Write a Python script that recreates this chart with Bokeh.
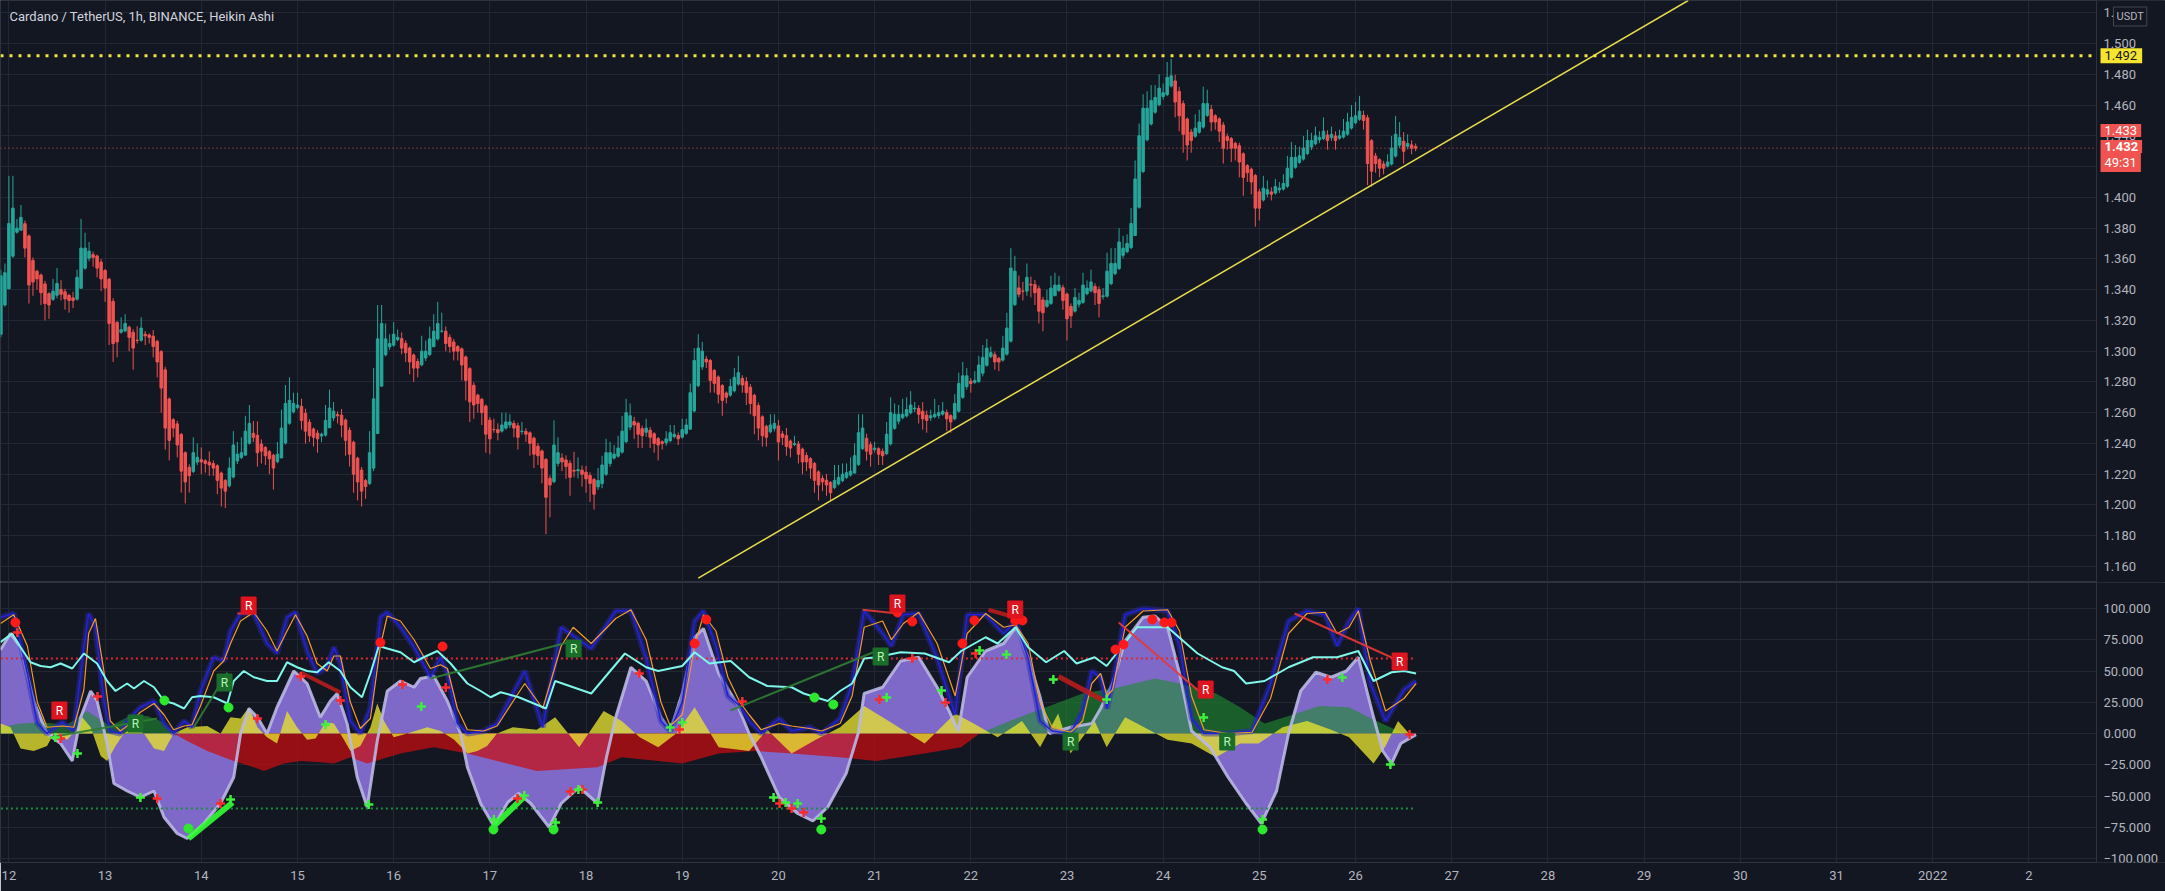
from bokeh.plotting import figure
from bokeh.models import (Range1d, FixedTicker, Label,
                          NumeralTickFormatter, CustomJSTickFormatter)
from bokeh.layouts import column
from bokeh.embed import file_html
from bokeh.resources import INLINE
from bokeh.core.properties import value

# ---------------------------------------------------------------- data
title_text = "Cardano / TetherUS, 1h, BINANCE, Heikin Ashi"
first_hour = -2          # hours counted from 12 Dec 00:00
first_open = 1.311
closes = (
    [1.349, 1.351, 1.383, 1.393, 1.380, 1.387, 1.367, 1.343, 1.345, 1.347, 1.338, 1.331,
     1.330, 1.339, 1.344, 1.337, 1.334, 1.333, 1.333, 1.348, 1.367, 1.367, 1.365, 1.361]
    + [1.354, 1.347, 1.341, 1.318, 1.305, 1.306, 1.314, 1.318, 1.309, 1.302, 1.307, 1.315,
       1.310, 1.309, 1.303, 1.293, 1.276, 1.250, 1.242, 1.250, 1.239, 1.222, 1.215, 1.219]
    + [1.234, 1.231, 1.228, 1.227, 1.226, 1.224, 1.216, 1.211, 1.209, 1.224, 1.239, 1.233,
       1.234, 1.248, 1.253, 1.244, 1.234, 1.235, 1.232, 1.230, 1.224, 1.233, 1.250, 1.266]
    + [1.268, 1.266, 1.265, 1.255, 1.248, 1.245, 1.244, 1.243, 1.246, 1.255, 1.263, 1.261,
       1.258, 1.252, 1.242, 1.233, 1.220, 1.215, 1.209, 1.212, 1.234, 1.269, 1.308, 1.318]
    + [1.308, 1.305, 1.311, 1.309, 1.302, 1.299, 1.293, 1.289, 1.289, 1.300, 1.300, 1.308,
       1.313, 1.318, 1.313, 1.305, 1.303, 1.300, 1.300, 1.291, 1.281, 1.267, 1.265, 1.266]
    + [1.260, 1.246, 1.243, 1.249, 1.247, 1.252, 1.254, 1.254, 1.250, 1.244, 1.248, 1.246,
       1.240, 1.233, 1.232, 1.224, 1.205, 1.213, 1.239, 1.234, 1.228, 1.225, 1.218, 1.222]
    + [1.223, 1.220, 1.217, 1.214, 1.207, 1.216, 1.226, 1.234, 1.234, 1.233, 1.237, 1.248,
       1.260, 1.258, 1.252, 1.246, 1.245, 1.250, 1.244, 1.240, 1.239, 1.240, 1.243, 1.247]
    + [1.246, 1.243, 1.249, 1.252, 1.273, 1.294, 1.302, 1.300, 1.293, 1.281, 1.279, 1.272,
       1.268, 1.270, 1.277, 1.283, 1.286, 1.278, 1.273, 1.266, 1.258, 1.250, 1.245, 1.244]
    + [1.252, 1.253, 1.241, 1.244, 1.238, 1.237, 1.240, 1.233, 1.228, 1.228, 1.224, 1.216,
       1.213, 1.215, 1.213, 1.208, 1.216, 1.218, 1.220, 1.221, 1.222, 1.232, 1.247, 1.250]
    + [1.235, 1.233, 1.237, 1.233, 1.232, 1.246, 1.260, 1.259, 1.259, 1.259, 1.262, 1.265,
       1.263, 1.259, 1.256, 1.255, 1.258, 1.259, 1.260, 1.261, 1.256, 1.254, 1.266, 1.279]
    + [1.284, 1.284, 1.279, 1.281, 1.291, 1.296, 1.302, 1.299, 1.293, 1.293, 1.302, 1.315,
       1.354, 1.352, 1.337, 1.339, 1.348, 1.343, 1.338, 1.326, 1.325, 1.333, 1.341, 1.343]
    + [1.343, 1.333, 1.321, 1.323, 1.335, 1.333, 1.343, 1.341, 1.345, 1.338, 1.331, 1.336,
       1.352, 1.357, 1.357, 1.371, 1.367, 1.370, 1.383, 1.412, 1.440, 1.458, 1.458, 1.463]
    + [1.465, 1.471, 1.468, 1.478, 1.479, 1.462, 1.453, 1.441, 1.434, 1.437, 1.445, 1.449,
       1.461, 1.461, 1.449, 1.449, 1.443, 1.432, 1.437, 1.432, 1.432, 1.423, 1.413, 1.416]
    + [1.410, 1.393, 1.393, 1.406, 1.405, 1.402, 1.407, 1.406, 1.409, 1.419, 1.426, 1.426,
       1.427, 1.432, 1.437, 1.437, 1.440, 1.439, 1.443, 1.437, 1.441, 1.437, 1.440, 1.443]
    + [1.449, 1.452, 1.453, 1.456, 1.450, 1.422, 1.417, 1.422, 1.419, 1.419, 1.423, 1.432,
       1.441, 1.439, 1.430, 1.435, 1.432, 1.432]
)
# wick lengths in thousandths of a USDT
wick_up = (
    [4, 6, 31, 21, 6, 8, 2, 1, 2, 1, 1, 2, 1, 8, 10, 6, 2, 1, 4, 5, 19, 10, 6, 2]
    + [1, 2, 1, 1, 2, 1, 8, 6, 1, 2, 9, 7, 2, 1, 4, 1, 1, 2, 1, 1, 2, 1, 1, 2]
    + [10, 9, 8, 1, 7, 2, 1, 1, 1, 7, 9, 8, 10, 10, 12, 8, 9, 3, 1, 1, 1, 8, 12, 12]
    + [15, 7, 8, 5, 3, 2, 1, 2, 1, 10, 12, 6, 2, 4, 1, 2, 1, 1, 2, 1, 14, 20, 22, 12]
    + [10, 6, 8, 5, 4, 2, 1, 1, 2, 10, 7, 8, 11, 14, 12, 3, 2, 2, 1, 1, 1, 1, 2, 1]
    + [1, 1, 2, 7, 4, 8, 6, 5, 2, 2, 6, 2, 1, 1, 2, 1, 1, 2, 16, 10, 3, 3, 2, 12]
    + [8, 3, 4, 2, 1, 8, 6, 9, 7, 6, 8, 10, 9, 8, 3, 1, 2, 6, 2, 1, 1, 1, 5, 5]
    + [6, 2, 7, 4, 6, 8, 9, 6, 2, 1, 1, 1, 1, 1, 5, 6, 11, 2, 3, 2, 1, 2, 1, 1]
    + [7, 6, 4, 2, 5, 1, 5, 2, 1, 2, 1, 1, 1, 2, 4, 1, 10, 8, 7, 6, 9, 8, 12, 9]
    + [3, 2, 4, 1, 2, 8, 10, 7, 6, 10, 8, 9, 4, 2, 6, 3, 4, 10, 5, 6, 2, 1, 6, 7]
    + [9, 5, 2, 6, 6, 8, 6, 4, 2, 1, 8, 10, 13, 10, 8, 6, 9, 5, 3, 2, 2, 7, 8, 8]
    + [6, 2, 1, 2, 6, 5, 8, 5, 8, 2, 2, 5, 12, 10, 10, 9, 8, 6, 10, 12, 8, 9, 11, 10]
    + [8, 9, 6, 10, 11, 4, 3, 2, 1, 2, 9, 8, 11, 9, 3, 1, 1, 2, 2, 1, 1, 2, 1, 1]
    + [1, 1, 2, 8, 6, 3, 5, 4, 6, 8, 10, 8, 6, 8, 7, 5, 6, 4, 9, 3, 5, 3, 4, 8]
    + [6, 8, 9, 10, 3, 2, 1, 2, 1, 2, 5, 8, 12, 10, 6, 6, 3, 2]
)
wick_dn = (
    [2, 1, 0, 1, 1, 0, 6, 12, 9, 7, 8, 11, 9, 1, 2, 4, 7, 8, 5, 1, 0, 1, 2, 6]
    + [6, 8, 9, 14, 12, 10, 1, 1, 9, 14, 2, 1, 6, 4, 7, 10, 16, 14, 13, 6, 8, 14, 14, 11]
    + [1, 2, 8, 6, 7, 5, 9, 12, 11, 1, 1, 2, 1, 0, 1, 3, 9, 8, 6, 10, 14, 1, 0, 1]
    + [1, 1, 1, 6, 8, 4, 6, 9, 4, 1, 0, 2, 5, 8, 10, 8, 12, 12, 10, 8, 1, 2, 0, 0]
    + [1, 2, 1, 1, 4, 6, 8, 9, 6, 1, 2, 1, 0, 1, 1, 5, 4, 6, 6, 10, 13, 13, 9, 6]
    + [8, 12, 10, 2, 5, 1, 1, 2, 6, 8, 2, 5, 8, 9, 6, 10, 24, 21, 1, 2, 6, 8, 12, 4]
    + [5, 8, 9, 12, 10, 2, 3, 1, 2, 1, 1, 1, 1, 2, 9, 9, 8, 3, 7, 6, 10, 4, 2, 1]
    + [1, 4, 1, 1, 0, 1, 1, 2, 4, 8, 6, 6, 10, 4, 1, 1, 1, 5, 8, 7, 12, 8, 7, 6]
    + [1, 2, 12, 5, 6, 6, 1, 6, 8, 6, 7, 8, 10, 6, 7, 5, 1, 1, 1, 1, 1, 0, 1, 1]
    + [6, 8, 2, 7, 6, 1, 1, 1, 2, 1, 1, 1, 2, 6, 7, 8, 2, 1, 2, 1, 8, 7, 1, 1]
    + [1, 2, 6, 1, 1, 2, 1, 1, 5, 6, 1, 1, 1, 1, 2, 6, 3, 8, 8, 8, 12, 1, 1, 0]
    + [1, 6, 14, 8, 1, 2, 1, 1, 1, 8, 9, 2, 1, 1, 1, 1, 2, 1, 1, 0, 1, 1, 1, 1]
    + [1, 1, 2, 1, 1, 10, 10, 12, 10, 8, 1, 1, 1, 1, 6, 5, 7, 10, 6, 9, 8, 10, 12, 6]
    + [8, 12, 8, 1, 2, 4, 1, 2, 1, 1, 1, 1, 1, 1, 1, 2, 1, 2, 1, 6, 2, 6, 1, 1]
    + [1, 1, 1, 1, 6, 14, 10, 6, 6, 4, 1, 1, 1, 2, 8, 2, 4, 2]
)

resistance = 1.492
last_price = 1.432
price_tags = ["1.433", "1.432", "49:31"]
trend_h = [172.0, 419.0]
trend_p = [1.1525, 1.528]

price_ticks = [1.160, 1.180, 1.200, 1.220, 1.240, 1.260, 1.280, 1.300, 1.320, 1.340,
               1.360, 1.380, 1.400, 1.420, 1.440, 1.460, 1.480, 1.500, 1.520]
osc_ticks = [-100, -75, -50, -25, 0, 25, 50, 75, 100]
day_ticks = [0, 24, 48, 72, 96, 120, 144, 168, 192, 216, 240, 264, 288, 312, 336,
             360, 384, 408, 432, 456, 480, 504]
day_labels = ["12", "13", "14", "15", "16", "17", "18", "19", "20", "21", "22", "23",
              "24", "25", "26", "27", "28", "29", "30", "31", "2022", "2"]

# oscillator pane (hours from 12 Dec 00:00, values)
wt_h = [-2.1, 0.4, 2.9, 6.2, 9.5, 12.9, 15.8, 17.9, 20.4, 22.0, 24.5, 26.2, 29.5, 32.8, 36.2,
        38.7, 42.0, 44.5, 48.6, 52.8, 56.1, 57.8, 59.9, 62.0, 64.4, 66.9, 71.1, 74.4, 77.7,
        80.2, 81.9, 84.4, 86.9, 89.4, 91.9, 94.4, 97.7, 101.1, 102.7, 106.0, 109.4, 112.7,
        114.4, 117.7, 121.0, 124.5, 127.2, 130.2, 134.8, 137.8, 142.3, 146.9, 149.1, 151.4,
        155.2, 159.0, 162.7, 165.0, 168.0, 171.1, 173.3, 177.1, 181.6, 184.7, 187.7, 192.2,
        196.8, 200.6, 204.3, 208.9, 211.9, 213.4, 218.0, 222.5, 227.0, 231.6, 234.6, 236.9,
        239.1, 243.7, 248.2, 251.2, 254.3, 257.3, 259.6, 264.9, 270.2, 272.4, 275.4, 278.5,
        283.0, 286.0, 289.1, 292.1, 295.1, 299.7, 304.2, 308.7, 312.5, 316.3, 319.3, 322.3,
        326.1, 329.9, 333.7, 336.7, 340.5, 342.8, 345.0, 347.3, 351.1]
wt_v = [67, 80, 69, 26, 0, -8, -22, 13, 34, 26, -8, -40, -46, -51, -46,
        -67, -80, -84, -72, -56, -35, 0, 20, 13, 0, 21, 50, 40, 13,
        26, 32, 8, -35, -59, -6, 34, 42, 37, 44, 46, 26, 0,
        -27, -56, -74, -55, -48, -56, -75, -56, -43, -56, -19, 13,
        53, 42, 13, 2, 32, 77, 84, 48, 24, 0, -19, -51,
        -64, -70, -59, -32, 0, 32, 37, 58, 61, 37, 18, 2,
        45, 66, 72, 85, 61, 29, 0, 5, 8, 20, 40, 74,
        93, 94, 85, 48, 2, -11, -35, -56, -72, -46, 0, 34,
        49, 45, 50, 61, 13, -14, -24, -8, -1]

fast_h = [-2.1, 1.2, 4.6, 7.1, 9.5, 13.3, 16.2, 18.7, 19.9, 21.6, 23.7, 25.3, 27.8, 29.5,
          32.8, 36.2, 38.7, 41.1, 43.7, 45.7, 47.8, 51.1, 53.6, 55.3, 57.8, 61.1, 64.4, 66.9,
          69.4, 71.5, 74.4, 76.9, 79.4, 81.1, 82.7, 85.2, 87.7, 90.2, 92.7, 94.4, 97.7, 101.1,
          105.2, 107.7, 109.4, 111.9, 114.4, 118.5, 121.8, 128.7, 133.2, 137.8, 140.8, 145.3,
          151.4, 155.2, 159.0, 162.7, 165.0, 168.0, 171.1, 173.3, 176.4, 179.4, 182.4, 184.7,
          187.7, 192.2, 195.3, 199.8, 202.8, 207.4, 210.4, 213.4, 218.0, 220.2, 223.2, 227.0,
          231.6, 236.1, 239.1, 243.7, 248.2, 251.2, 254.3, 257.3, 260.3, 264.9, 267.9, 270.2,
          272.4, 274.0, 275.4, 278.5, 283.0, 289.1, 292.1, 295.1, 298.2, 304.2, 310.2, 314.8,
          319.3, 323.9, 328.4, 331.4, 334.4, 336.7, 339.7, 343.5, 348.1, 351.1]
fast_v = [93, 96, 48, 8, 0, 9, 2, 69, 96, 85, 26, 2, 0, 10,
          21, 26, 8, 0, 10, 5, 34, 61, 58, 82, 96, 96, 72, 64,
          93, 97, 66, 48, 53, 69, 56, 10, 0, 21, 93, 97, 85, 69,
          45, 61, 48, 8, 0, 2, 8, 50, 5, 85, 78, 68,
          98, 98, 60, 10, 2, 25, 90, 98, 70, 30, 22, 10,
          0, 12, 2, 5, 0, 12, 40, 98, 80, 70, 95, 96,
          60, 15, 95, 95, 80, 90, 60, 10, 2, 0, 18, 50,
          45, 20, 40, 95, 100, 98, 70, 12, 0, 0, 2, 40,
          90, 98, 95, 70, 90, 100, 40, 10, 35, 42]
slow_v = [88, 95, 70, 25, 5, 6, 5, 35, 80, 92, 50, 10, 2, 6,
          17, 24, 15, 3, 6, 7, 22, 50, 58, 72, 90, 97, 82, 66,
          82, 95, 78, 56, 50, 62, 62, 25, 4, 12, 70, 94, 90, 75,
          52, 55, 52, 20, 3, 2, 6, 40, 20, 70, 85, 72,
          92, 99, 75, 25, 6, 15, 70, 95, 82, 45, 25, 15,
          3, 8, 6, 4, 2, 8, 30, 85, 90, 75, 88, 97,
          72, 30, 80, 96, 85, 87, 72, 25, 5, 1, 10, 40,
          48, 30, 35, 85, 98, 99, 82, 30, 3, 0, 1, 28,
          80, 96, 97, 80, 85, 98, 58, 18, 28, 40]

rsi_h = [-2.1, 0.8, 2.9, 5.4, 7.9, 10.4, 12.9, 15.8, 18.7, 22.0, 24.5, 26.6, 29.5, 31.2,
         33.7, 36.2, 38.7, 41.1, 43.7, 45.7, 47.8, 51.1, 54.5, 56.1, 58.6, 61.1, 64.4, 66.9,
         69.4, 71.9, 74.4, 76.9, 79.8, 82.7, 85.2, 88.1, 90.2, 92.3, 94.4, 97.7, 101.1, 103.5,
         106.9, 110.2, 114.4, 117.7, 120.2, 122.7, 127.2, 134.0, 136.3, 140.8, 145.3, 153.7,
         159.0, 162.0, 168.0, 171.1, 174.8, 180.1, 184.7, 189.2, 195.3, 198.3, 204.3, 207.4,
         210.4, 213.4, 216.4, 222.5, 228.5, 234.6, 237.6, 243.7, 246.7, 251.2, 254.3, 258.8,
         263.3, 266.4, 270.9, 273.9, 281.5, 289.1, 296.6, 302.7, 305.7, 308.7, 313.3, 319.3,
         325.4, 331.4, 336.7, 340.5, 345.0, 348.1, 351.1]
rsi_v = [73, 80, 69, 57, 54, 53, 56, 52, 64, 56, 42, 34, 40, 36,
         42, 37, 26, 24, 20, 29, 30, 29, 24, 42, 50, 45, 42, 42,
         57, 53, 50, 49, 57, 50, 37, 29, 48, 70, 68, 65, 57, 61,
         66, 56, 40, 34, 29, 33, 29, 20, 42, 37, 32, 64,
         53, 50, 54, 65, 56, 58, 45, 38, 37, 32, 26, 34,
         40, 60, 61, 65, 64, 57, 66, 77, 72, 85, 69, 57,
         66, 56, 61, 54, 85, 85, 64, 53, 50, 40, 42, 53,
         61, 61, 66, 42, 49, 50, 48]

mom_h = [-2.1, 0.4, 2.9, 6.2, 9.5, 11.2, 14.5, 16.6, 18.3, 20.4, 22.9, 24.5, 26.6, 28.7, 31.2,
         33.7, 36.2, 38.7, 41.1, 44.5, 49.5, 52.8, 55.3, 57.8, 59.9, 62.0, 64.4, 66.9, 69.4,
         71.9, 74.4, 76.5, 79.0, 81.1, 83.6, 85.2, 87.7, 90.2, 91.9, 93.6, 96.0, 99.4, 104.4,
         107.7, 111.1, 114.4, 116.9, 119.3, 121.8, 125.7, 131.7, 136.3, 142.3, 148.4, 152.9,
         157.4, 162.0, 166.5, 171.1, 177.1, 184.7, 189.2, 195.3, 201.3, 207.4, 213.4, 219.5,
         228.5, 236.1, 240.7, 246.7, 252.8, 257.3, 261.8, 264.9, 270.9, 273.9, 278.5, 281.5,
         289.1, 295.1, 301.2, 307.2, 311.8, 317.8, 323.9, 329.9, 334.4, 340.5, 343.5, 346.6, 349.6]
mom_v = [8, 5, -12, -14, -10, 0, -5, 2, 13, 5, -18, -22, -10, 0, 5,
         0, -12, -14, 0, 5, 6, 0, 13, 12, 21, 5, -3, -8, 18,
         5, -5, -4, 9, 8, -5, -14, -10, 5, 24, 10, -3, 0, 5,
         2, -5, -16, -14, -10, 0, 5, 3, 13, -11, 18, 10,
         -3, -11, 0, 21, -11, -14, 3, -16, -5, 5, 22, 10,
         -8, 16, 8, -3, 10, -11, 16, -16, 10, -11, 13, 8,
         -5, -8, -19, -8, -8, 5, 10, 3, -3, -24, -10, 10, -1]

mf_h = [-2.1, 2.9, 7.9, 14.5, 19.5, 25.3, 29.5, 34.5, 37.8, 41.1, 44.5, 49.5, 56.1, 61.1,
        63.6, 68.6, 72.8, 77.7, 81.1, 85.2, 89.4, 97.7, 106.0, 114.4, 121.8, 131.7, 146.9,
        152.9, 168.0, 177.1, 186.2, 195.3, 207.4, 216.4, 228.5, 237.6, 242.2, 249.7, 258.8,
        267.9, 276.9, 286.0, 292.1, 301.2, 307.2, 313.3, 319.3, 326.9, 334.4, 340.5, 348.1]
mf_v = [5, 8, 9, 7, 18, 6, 13, 14, 10, 0, -6, -14, -22, -27,
        -30, -24, -22, -23, -24, -19, -24, -16, -11, -16, -22, -30, -27,
        -19, -24, -16, -14, -16, -19, -22, -16, -11, 0, 10, 21,
        32, 37, 44, 40, 32, 21, 8, 14, 22, 21, 11, 0]

ob_level = 60
os_level = -60

red_dot_h = [1.6, 92.7, 108.2, 171.1, 174.0, 221.7, 225.4, 237.9, 240.9, 251.1, 252.9,
             276.1, 278.1, 285.3, 288.3, 290.1]
red_dot_v = [88.8, 72.8, 69.6, 72.0, 91.2, 96.8, 89.6, 72.0, 90.4, 90.4, 90.4,
             67.2, 71.2, 91.2, 88.8, 88.8]
green_dot_h = [38.8, 54.8, 44.8, 120.9, 135.9, 201.0, 205.7, 202.7, 312.8]
green_dot_v = [26.4, 20.8, -76.0, -76.8, -76.8, 28.8, 23.2, -76.8, -76.8]
red_cross_h = [2.1, 12.9, 22.1, 37.0, 52.8, 62.0, 72.8, 82.7, 98.2, 109.0, 126.9, 140.1,
               143.1, 157.3, 167.3, 183.0, 192.3, 195.3, 198.3, 217.2, 225.4, 233.7, 241.2,
               329.0, 349.5]
red_cross_v = [80.8, -4.0, 29.6, -52.0, -56.0, 12.0, 45.6, 26.4, 39.2, 36.8, -52.0, -46.4,
               -44.8, 48.0, 3.2, 25.6, -56.0, -60.0, -63.2, 27.2, 60.0, 24.8, 64.0,
               43.2, -0.8]
green_cross_h = [11.6, 17.1, 32.8, 55.3, 79.0, 89.8, 102.9, 121.0, 128.6, 136.4, 142.1,
                 146.9, 165.0, 168.0, 190.8, 193.8, 196.8, 202.7, 219.0, 232.7, 242.2,
                 248.9, 260.6, 273.9, 298.1, 312.8, 332.7, 344.7]
green_cross_v = [-3.2, -16.0, -51.2, -52.8, 7.2, -56.8, 21.6, -68.8, -49.6, -71.2, -44.8,
                 -55.2, 4.8, 8.8, -51.2, -55.2, -56.0, -68.0, 28.8, 34.4, 66.4,
                 63.2, 43.2, 27.2, 12.8, -68.8, 44.8, -24.8]
bear_r_h = [12.6, 59.8, 221.7, 251.1, 298.6, 347.0]
bear_r_v = [18.4, 102.4, 104.0, 99.2, 35.2, 57.6]
bull_r_h = [31.6, 53.8, 140.9, 217.5, 264.9, 304.0]
bull_r_v = [8.0, 40.8, 68.0, 61.6, -6.4, -6.4]
bear_x0 = [57.0, 72.8, 213.0, 244.4, 261.9, 276.9, 320.8]
bear_y0 = [96.0, 48.8, 99.0, 99.0, 45.6, 88.8, 96.0]
bear_x1 = [61.0, 82.7, 221.7, 250.9, 273.1, 298.8, 347.2]
bear_y1 = [96.0, 32.8, 96.0, 93.0, 26.4, 28.8, 57.6]
bear_w = [2, 4, 2, 4, 5, 2, 2]
bull_x0 = [44.8, 121.0, 46.1, 105.2, 180.0, 10.4]
bull_y0 = [-84.0, -74.0, 4.8, 44.0, 18.4, -3.0]
bull_x1 = [55.8, 128.6, 54.5, 139.4, 218.0, 37.0]
bull_y1 = [-55.2, -50.4, 48.8, 72.8, 68.0, 12.0]
bull_w = [6, 6, 2, 2, 2, 2]

# ---------------------------------------------------------------- style
BG = "#131722"
GRID = "#232734"
SEP = "#2F333E"
TXT = "#B2B5BE"
UP = "#26A69A"
DN = "#EF5350"
W = 2165
X_START, X_END = -2.1, 538.1     # hours shown across the full window width
SCALE_AT = 520.86                # hour at which the price scale begins
FS = "13px"

# ---------------------------------------------------------------- heikin ashi
hours = [first_hour + i for i in range(len(closes))]
opens = [first_open]
for i in range(1, len(closes)):
    opens.append((opens[i - 1] + closes[i - 1]) / 2.0)
tops = [max(o, c) for o, c in zip(opens, closes)]
bots = [min(o, c) for o, c in zip(opens, closes)]
highs = [t + u / 1000.0 for t, u in zip(tops, wick_up)]
lows = [b - d / 1000.0 for b, d in zip(bots, wick_dn)]
cols = [UP if c >= o else DN for o, c in zip(opens, closes)]

xr = Range1d(X_START, X_END)


def style_axis(ax):
    ax.major_label_text_color = TXT
    ax.major_label_text_font = "Roboto"
    ax.major_label_text_font_size = FS
    ax.major_tick_line_color = None
    ax.minor_tick_line_color = None
    ax.major_tick_out = 0
    ax.major_tick_in = 0
    ax.axis_line_color = SEP


def setup_grids(p, yticker):
    for g in p.grid:
        g.grid_line_color = GRID
        if g.dimension == 0:
            g.ticker = FixedTicker(ticks=day_ticks)
        else:
            g.ticker = yticker


# ---------------------------------------------------------------- price pane
P1_LO, P1_HI = 1.1496, 1.5280
p1 = figure(width=W, height=582, x_range=xr, y_range=Range1d(P1_LO, P1_HI),
            x_axis_location=None, y_axis_location="right", toolbar_location=None,
            output_backend="svg", title=None,
            background_fill_color=BG, border_fill_color=BG,
            min_border_left=0, min_border_right=0, min_border_top=0, min_border_bottom=0,
            outline_line_color=SEP)
pt = FixedTicker(ticks=price_ticks)
p1.yaxis.ticker = pt
p1.yaxis.formatter = NumeralTickFormatter(format="0.000")
p1.yaxis.major_label_standoff = 7
p1.yaxis.fixed_location = SCALE_AT
style_axis(p1.yaxis[0])
setup_grids(p1, pt)
# keep the scale strip clean of grid lines
p1.quad(left=SCALE_AT, right=X_END, bottom=P1_LO, top=P1_HI, fill_color=BG, line_color=None)

p1.segment(x0=hours, y0=lows, x1=hours, y1=highs, color=cols, line_width=1)
p1.vbar(x=hours, width=0.62, top=tops, bottom=bots, fill_color=cols, line_color=cols,
        line_width=1)

p1.line(trend_h, trend_p, line_color="#E8DC4C", line_width=1.5)
p1.line([X_START, SCALE_AT], [last_price, last_price], line_color=DN, line_alpha=0.9,
        line_width=1, line_dash="1 3")
p1.line([X_START, SCALE_AT], [resistance, resistance], line_color="#F4E542",
        line_width=3, line_dash="3 6")

p1.add_layout(Label(x=9, y=566, x_units="screen", y_units="screen", text=title_text,
                    text_color="#D1D4DC", text_font="Roboto", text_font_size="13px",
                    text_baseline="middle"))
p1.add_layout(Label(x=2113, y=566, x_units="screen", y_units="screen", text="USDT",
                    text_color=TXT, text_font="Roboto", text_font_size="11px",
                    text_baseline="middle", background_fill_color=BG,
                    border_line_color="#434651", padding=3))
p1.add_layout(Label(x=2100, y=resistance, x_units="screen", text="%.3f" % resistance,
                    text_color="#131722", text_font="Roboto", text_font_size=FS,
                    text_baseline="middle", background_fill_color="#F5E430",
                    padding=[4, 5, 3, 3]))
for k, (txt, sy) in enumerate(zip(price_tags, [452, 436, 420])):
    p1.add_layout(Label(x=2100, y=sy, x_units="screen", y_units="screen", text=txt,
                        text_color="#FFFFFF", text_font="Roboto", text_font_size=FS,
                        text_font_style="bold" if k == 1 else "normal",
                        text_baseline="middle", background_fill_color="#F05350",
                        padding=[4, 4, 2, 2]))

# ---------------------------------------------------------------- oscillator pane
P2_LO, P2_HI = -103.2, 120.8
p2 = figure(width=W, height=309, x_range=xr, y_range=Range1d(P2_LO, P2_HI),
            y_axis_location="right", toolbar_location=None, output_backend="svg", title=None,
            background_fill_color=BG, border_fill_color=BG,
            min_border_left=0, min_border_right=0, min_border_top=0, min_border_bottom=29,
            outline_line_color=SEP)
ot = FixedTicker(ticks=osc_ticks)
p2.yaxis.ticker = ot
p2.yaxis.formatter = CustomJSTickFormatter(code="return tick.toFixed(3).replace('-', '\u2212');")
p2.yaxis.major_label_standoff = 7
p2.yaxis.fixed_location = SCALE_AT
style_axis(p2.yaxis[0])
dt = FixedTicker(ticks=day_ticks)
p2.xaxis.ticker = dt
p2.xaxis.major_label_overrides = {t: lab for t, lab in zip(day_ticks, day_labels)}
p2.xaxis.major_label_standoff = 8
style_axis(p2.xaxis[0])
p2.xaxis.axis_line_color = None
setup_grids(p2, ot)
p2.quad(left=SCALE_AT, right=X_END, bottom=P2_LO, top=P2_HI, fill_color=BG, line_color=None)

# wave area
p2.varea(x=wt_h, y1=0, y2=wt_v, fill_color="#7E69C8", fill_alpha=1.0)
# money flow
p2.varea(x=mf_h, y1=0, y2=[max(v, 0) for v in mf_v], fill_color="#1F8A32", fill_alpha=0.62)
p2.varea(x=mf_h, y1=0, y2=[min(v, 0) for v in mf_v], fill_color="#C80C10", fill_alpha=0.72)
# momentum
p2.varea(x=mom_h, y1=0, y2=mom_v, fill_color="#E6E22E", fill_alpha=0.78)
# wave edge
p2.line(wt_h, wt_v, line_color="#BAB8E4", line_width=3, line_alpha=0.9)

p2.line([hours[0], hours[-1]], [ob_level, ob_level], line_color="#E0282F",
        line_width=2, line_dash="2 3")
p2.line([hours[0], hours[-1]], [os_level, os_level], line_color="#1E8E3E",
        line_width=2, line_dash="2 3")

# stochastic lines
p2.line(fast_h, fast_v, line_color="#2B2BB0", line_width=6, line_alpha=0.45)
p2.line(fast_h, fast_v, line_color="#2222D8", line_width=1.6)
p2.line(fast_h, slow_v, line_color="#F39C2B", line_width=1.2)
# rsi line
p2.line(rsi_h, rsi_v, line_color="#7FF7EA", line_width=2)

# divergence lines
p2.segment(x0=bear_x0, y0=bear_y0, x1=bear_x1, y1=bear_y1, line_width=bear_w,
           line_color=["#B71C1C" if w >= 4 else "#E53935" for w in bear_w], line_alpha=0.9)
p2.segment(x0=bull_x0, y0=bull_y0, x1=bull_x1, y1=bull_y1, line_width=bull_w,
           line_color=["#33FF33" if w >= 4 else "#2E7D32" for w in bull_w], line_alpha=0.9)

# markers
p2.scatter(red_dot_h, red_dot_v, marker="circle", size=9, fill_color="#FF1A1A",
           line_color="#FF1A1A")
p2.scatter(green_dot_h, green_dot_v, marker="circle", size=9, fill_color="#2EE82E",
           line_color="#2EE82E")
p2.scatter(red_cross_h, red_cross_v, marker="cross", size=9, line_color="#FF2A2A",
           line_width=2.5)
p2.scatter(green_cross_h, green_cross_v, marker="cross", size=9, line_color="#3CF03C",
           line_width=2.5)

p2.rect(x=bear_r_h, y=bear_r_v, width=15, height=17, width_units="screen",
        height_units="screen", fill_color="#E0141E", line_color="#E0141E")
p2.text(x=bear_r_h, y=bear_r_v, text=["R"] * len(bear_r_h), text_align="center",
        text_baseline="middle", text_color="#FFFFFF", text_font=value("Roboto"),
        text_font_size="12px")
p2.rect(x=bull_r_h, y=bull_r_v, width=15, height=17, width_units="screen",
        height_units="screen", fill_color="#1B6E2A", line_color="#1B6E2A")
p2.text(x=bull_r_h, y=bull_r_v, text=["R"] * len(bull_r_h), text_align="center",
        text_baseline="middle", text_color="#B8F5B8", text_font=value("Roboto"),
        text_font_size="12px")

layout = column(p1, p2)
open("out.html", "w").write(file_html(layout, INLINE))
